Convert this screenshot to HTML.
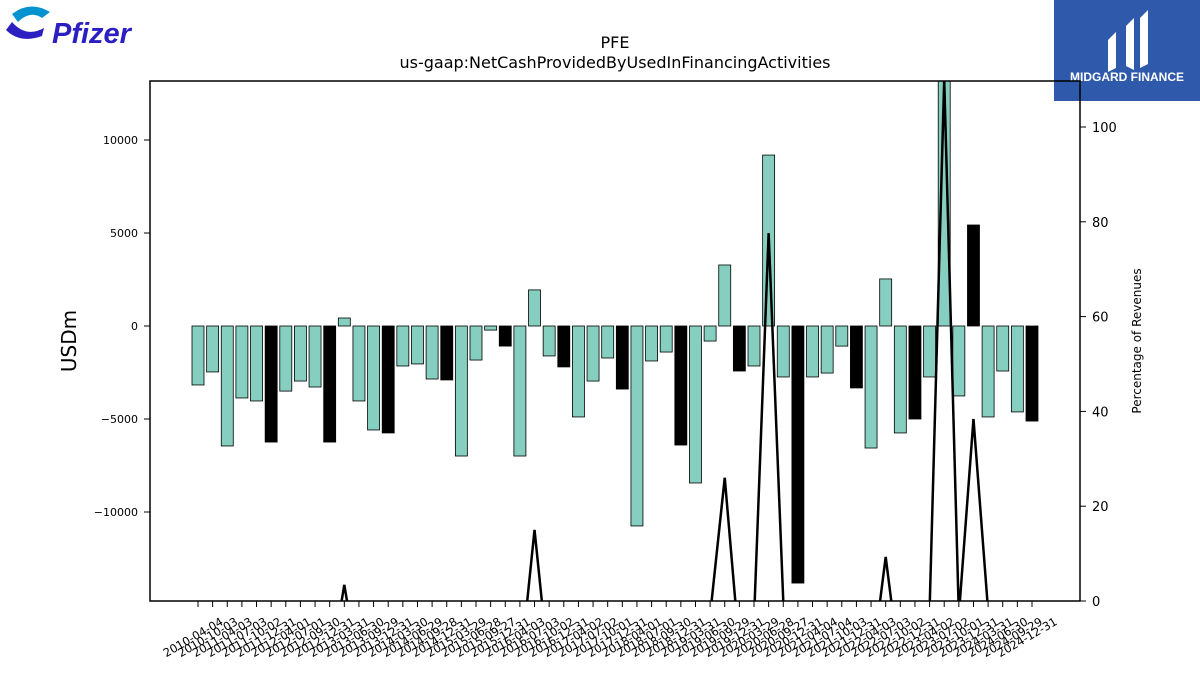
<!DOCTYPE html>
<html><head><meta charset="utf-8"><style>
html,body{margin:0;background:#fff;width:1200px;height:675px;overflow:hidden;font-family:"Liberation Sans","DejaVu Sans",sans-serif}
svg{display:block}
svg text{font-family:"DejaVu Sans","Liberation Sans",sans-serif}
</style></head><body>
<svg id="c" width="1200" height="675" xmlns="http://www.w3.org/2000/svg">
<g>
<path d="M12 14 Q30 0 50 12 L42 18 Q30 10 18 22 Z" fill="#0093d0"/>
<path d="M6 30 Q20 44 42 36 L44 28 Q26 38 12 22 Z" fill="#2b1fc1"/>
<text x="52" y="43" font-size="29" font-style="italic" font-weight="bold" fill="#2b1fc1" style="font-family:'Liberation Sans',sans-serif">Pfizer</text>
</g>
<g>
<rect x="1054" y="0" width="146" height="101" fill="#2f5aab"/>
<path d="M1108 40 L1116 32 L1116 68 L1108 72 Z M1126 26 L1134 18 L1134 70 L1126 66 Z M1140 18 L1148 10 L1148 64 L1140 68 Z" fill="#fff"/>
<text x="1127" y="81" font-size="12" font-weight="bold" fill="#fff" text-anchor="middle" style="font-family:'Liberation Sans',sans-serif">MIDGARD FINANCE</text>
</g>
<text x="615" y="48" font-size="16" text-anchor="middle">PFE</text>
<text x="615" y="68" font-size="16" text-anchor="middle">us-gaap:NetCashProvidedByUsedInFinancingActivities</text>
<text transform="translate(76,341) rotate(-90)" font-size="20" text-anchor="middle">USDm</text>
<text transform="translate(1141,341) rotate(-90)" font-size="12" text-anchor="middle">Percentage of Revenues</text>
<defs><clipPath id="pc"><rect x="150" y="81" width="930" height="520"/></clipPath></defs>
<g id="bars" clip-path="url(#pc)"></g>
<g id="line" clip-path="url(#pc)"></g>
<g id="axes"></g>
<rect x="150" y="81" width="930" height="520" fill="none" stroke="#000" stroke-width="1.5"/>
</svg>
<script>
const categories=["2010-04-04","2010-10-03","2011-04-03","2011-07-03","2011-10-02","2011-12-31","2012-04-01","2012-07-01","2012-09-30","2012-12-31","2013-03-31","2013-06-30","2013-09-29","2013-12-31","2014-03-30","2014-06-29","2014-09-28","2014-12-31","2015-03-29","2015-06-28","2015-09-27","2015-12-31","2016-04-03","2016-07-03","2016-10-02","2016-12-31","2017-04-02","2017-07-02","2017-10-01","2017-12-31","2018-04-01","2018-07-01","2018-09-30","2018-12-31","2019-03-31","2019-06-30","2019-09-29","2019-12-31","2020-03-29","2020-06-28","2020-09-27","2020-12-31","2021-04-04","2021-07-04","2021-10-03","2021-12-31","2022-04-03","2022-07-03","2022-10-02","2022-12-31","2023-04-02","2023-07-02","2023-10-01","2023-12-31","2024-03-31","2024-06-30","2024-09-29","2024-12-31"];
const values=[-3170,-2470,-6450,-3870,-4030,-6240,-3500,-2960,-3280,-6240,430,-4030,-5590,-5750,-2150,-2040,-2850,-2900,-6990,-1830,-220,-1080,-6990,1940,-1610,-2200,-4890,-2960,-1720,-3390,-10750,-1880,-1400,-6400,-8440,-810,3280,-2420,-2150,9190,-2740,-13820,-2740,-2530,-1080,-3330,-6560,2530,-5750,-5000,-2740,15000,-3760,5430,-4890,-2420,-4620,-5110];
const pct=[-15,-15,-15,-15,-15,-15,-15,-15,-15,-15,3.4,-15,-15,-15,-15,-15,-15,-15,-15,-15,-15,-15,-15,15,-15,-15,-15,-15,-15,-15,-15,-15,-15,-15,-15,-3,26,-10,-4,77.6,0,-15,-15,-15,-15,-15,-15,9.3,-15,-15,-2,110,-3,38.4,-2,-15,-15,-15];
const yTicks=[-10000,-5000,0,5000,10000];
const y2Ticks=[0,20,40,60,80,100];
const NS="http://www.w3.org/2000/svg";
const x=i=>198+i*(1032-198)/(categories.length-1);
const y=v=>326-v*0.0186;
const y2=v=>601-v*4.74;
function mk(t,a,p){const e=document.createElementNS(NS,t);for(const k in a)e.setAttribute(k,a[k]);p.appendChild(e);return e;}
const B=document.getElementById('bars'),L=document.getElementById('line'),A=document.getElementById('axes');
values.forEach((v,i)=>{
 const r=mk('rect',{x:x(i)-6,y:Math.min(y(v),y(0)),width:12,height:Math.abs(y(v)-y(0)),fill:(i>=5&&i%4==1)?'#000':'#86cebf',stroke:'#000','stroke-width':0.8},B);
 
 
});
const pl=mk('polyline',{points:pct.map((p,i)=>x(i)+','+y2(p)).join(' '),fill:'none',stroke:'#000','stroke-width':2.5},L);


categories.forEach((c,i)=>{
 mk('line',{x1:x(i),x2:x(i),y1:601,y2:607,stroke:'#000'},A);
 const t=mk('text',{transform:`translate(${x(i)+26},${624}) rotate(-30)`,'font-size':11.5,'text-anchor':'end'},A);
 t.textContent=c;
 
 
});
yTicks.forEach(v=>{
 mk('line',{x1:144,x2:150,y1:y(v),y2:y(v),stroke:'#000'},A);
 const t=mk('text',{x:138,y:y(v)+4,'font-size':11,'text-anchor':'end'},A);
 t.textContent=v<0?'\u2212'+(-v):String(v);
 
 
});
y2Ticks.forEach(v=>{
 mk('line',{x1:1080,x2:1086,y1:y2(v),y2:y2(v),stroke:'#000'},A);
 const t=mk('text',{x:1092,y:y2(v)+5,'font-size':13},A);
 t.textContent=v;
 
 
});
</script>
</body></html>
